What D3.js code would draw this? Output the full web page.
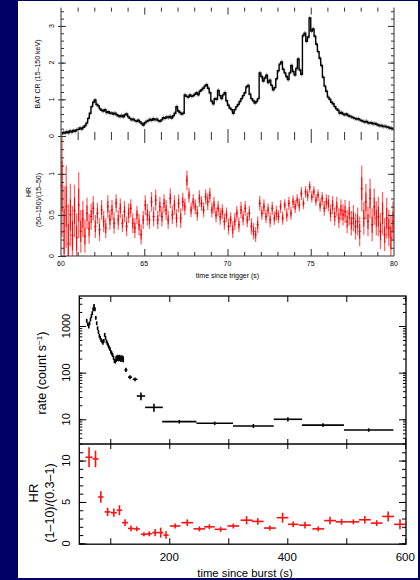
<!DOCTYPE html>
<html>
<head>
<meta charset="utf-8">
<script src="https://cdn.jsdelivr.net/npm/d3@7"></script>
<style>
  html, body { margin: 0; padding: 0; background: #000066; }
  svg { display: block; }
  text { font-family: "Liberation Sans", Arial, sans-serif; fill: #000; }
</style>
</head>
<body>
<svg id="chart" width="420" height="580"></svg>
<script>
// ---- upper figure: BAT count rate (0.1 s bins) and hardness ratio (0.125 s bins)
const batStart = 60.0;
const batBin = 0.1;
const batRate = [
  0.06,0.10,0.08,0.12,0.09,0.14,0.11,0.15,0.13,0.17,
  0.18,0.22,0.19,0.24,0.28,0.35,0.48,0.62,0.80,0.92,
  0.98,0.86,0.82,0.74,0.70,0.68,0.72,0.64,0.66,0.62,
  0.63,0.60,0.62,0.58,0.55,0.53,0.56,0.52,0.58,0.60,
  0.52,0.48,0.44,0.46,0.42,0.40,0.43,0.38,0.34,0.30,
  0.36,0.40,0.42,0.45,0.43,0.47,0.44,0.46,0.42,0.40,
  0.44,0.50,0.48,0.52,0.50,0.53,0.49,0.55,0.62,0.80,
  0.68,0.64,0.60,0.62,1.12,1.08,1.06,1.12,1.08,1.10,
  1.14,1.18,1.12,1.22,1.26,1.30,1.36,1.40,1.30,1.18,
  0.95,0.88,1.02,1.00,1.24,1.10,1.02,1.12,1.18,0.96,
  0.84,0.76,0.72,0.62,0.72,0.80,0.86,0.94,1.02,1.10,
  1.18,1.34,1.38,1.14,1.02,0.96,0.90,0.94,1.02,1.72,
  1.62,1.50,1.58,1.66,1.46,1.52,1.38,1.26,1.32,1.56,
  1.78,1.96,2.02,1.82,1.72,1.62,1.54,1.72,1.92,1.76,
  1.66,1.84,2.10,1.80,1.68,2.74,2.80,2.58,2.70,3.22,
  2.86,2.92,2.72,2.50,2.30,2.12,1.92,1.60,1.36,1.22,
  1.06,1.00,0.92,0.88,0.80,0.74,0.70,0.62,0.64,0.60,
  0.58,0.60,0.56,0.54,0.52,0.50,0.48,0.46,0.47,0.44,
  0.42,0.40,0.38,0.40,0.36,0.35,0.36,0.33,0.34,0.32,
  0.30,0.28,0.29,0.26,0.27,0.25,0.24,0.22,0.21,0.19
];
const batRateErr = 0.06;

const hrBin = 0.125;
const batHR = [
  0.85,0.30,0.60,0.15,0.50,0.25,0.55,0.22,
  0.62,0.30,0.45,0.24,0.52,0.33,0.48,0.58,
  0.36,0.52,0.32,0.56,0.42,0.34,0.60,0.44,
  0.56,0.40,0.64,0.44,0.58,0.40,0.54,0.36,
  0.52,0.58,0.40,0.34,0.50,0.38,0.26,0.44,
  0.62,0.50,0.44,0.66,0.48,0.68,0.44,0.60,
  0.48,0.64,0.56,0.44,0.70,0.50,0.62,0.46,
  0.64,0.46,0.66,0.60,0.92,0.74,0.56,0.66,
  0.60,0.52,0.70,0.64,0.56,0.72,0.66,0.74,
  0.56,0.62,0.50,0.58,0.48,0.54,0.42,0.50,
  0.36,0.44,0.32,0.42,0.52,0.38,0.56,0.46,
  0.58,0.44,0.52,0.36,0.30,0.26,0.38,0.64,
  0.52,0.60,0.48,0.56,0.44,0.58,0.46,0.52,
  0.48,0.60,0.46,0.62,0.50,0.64,0.52,0.66,
  0.60,0.68,0.62,0.76,0.64,0.78,0.74,0.84,
  0.72,0.78,0.68,0.74,0.62,0.70,0.58,0.66,
  0.64,0.52,0.62,0.48,0.60,0.46,0.56,0.50,
  0.54,0.42,0.52,0.40,0.46,0.36,0.42,0.30,
  0.82,0.46,0.66,0.42,0.70,0.38,0.60,0.46,
  0.48,0.30,0.52,0.26,0.46,0.34,0.22,0.42
];
const batHRErr = [
  0.62,0.55,0.50,0.48,0.38,0.36,0.32,0.30,
  0.40,0.26,0.22,0.20,0.19,0.18,0.16,0.15,
  0.14,0.13,0.14,0.12,0.13,0.12,0.14,0.12,
  0.12,0.13,0.11,0.12,0.12,0.11,0.13,0.12,
  0.12,0.11,0.12,0.12,0.11,0.13,0.12,0.11,
  0.12,0.13,0.11,0.12,0.12,0.13,0.11,0.12,
  0.12,0.11,0.12,0.11,0.12,0.11,0.12,0.11,
  0.11,0.12,0.11,0.10,0.12,0.09,0.09,0.09,
  0.09,0.09,0.10,0.09,0.09,0.09,0.10,0.09,
  0.09,0.10,0.09,0.09,0.10,0.09,0.10,0.09,
  0.10,0.09,0.10,0.10,0.09,0.09,0.10,0.09,
  0.09,0.09,0.09,0.10,0.10,0.09,0.10,0.09,
  0.08,0.09,0.08,0.08,0.09,0.08,0.08,0.09,
  0.08,0.08,0.08,0.07,0.08,0.08,0.08,0.08,
  0.08,0.07,0.08,0.08,0.07,0.07,0.07,0.07,
  0.07,0.07,0.07,0.07,0.08,0.08,0.09,0.09,
  0.10,0.10,0.11,0.11,0.12,0.12,0.13,0.13,
  0.14,0.14,0.15,0.15,0.16,0.16,0.17,0.18,
  0.28,0.20,0.22,0.18,0.24,0.20,0.22,0.21,
  0.24,0.22,0.26,0.20,0.25,0.22,0.28,0.24
];

// ---- lower figure: X-ray rate and hardness vs time since burst
const xrtTime = [60,62,63.5,65,66.5,68,69.5,71,72.5,74,75.5,77,78.5,80,81.5,83,84.5,86,87.5,89,
  90.5,92,93.5,95,96.5,98,99.5,101,102.5,104,105.5,107,108.5,110,112,114,116,118,120,122,
  126.5,133.5,142,152,174,217,277,342.5,401,460.5,538];
const xrtTimeErr = [1,1,0.75,0.75,0.75,0.75,0.75,0.75,0.75,0.75,0.75,0.75,0.75,0.75,0.75,0.75,0.75,0.75,0.75,0.75,
  0.75,0.75,0.75,0.75,0.75,0.75,0.75,0.75,0.75,0.75,0.75,0.75,0.75,1,1,1,1,1,1,1,
  2.5,3.5,4,7,15,29,31,34.5,24,35.5,42];
const xrtRate = [1300,1100,980,1150,1400,1650,1900,2300,2700,2300,1500,1150,900,750,620,560,500,470,440,480,
  650,560,470,430,390,350,320,280,260,240,210,180,175,200,210,205,210,200,205,195,
  115,80,72,31.5,18,8.9,8.2,7.2,10,7.5,5.9];
const xrtRateErr = [125,105,95,110,135,160,180,220,260,220,145,110,86,72,60,54,48,45,42,46,
  62,54,45,42,37,34,30,27,26,23,21,18,18,30,32,31,32,30,31,29,
  12,8,7,6,3.5,0.8,0.7,0.7,1.0,0.7,0.5];

const hrTime = [64,75,84,95.5,106,115.5,125,135,145,157,166,176,185.5,194.5,210,230.5,251,268,287,308.5,
  331,350,370.5,392,410,430,452.5,472.5,492,512,531.5,551.5,571,591];
const hrTimeErr = [6,5,4.5,5,5,4.5,5,5,5,5,4.5,5,4.5,4.5,9,10,10,9,10,10,
  10,10,10,10,9,10,10,10,10,10,10,10,10,10];
const hrVal = [10.4,10.2,5.6,3.8,3.7,4.0,2.5,1.8,1.75,1.1,1.15,1.3,1.3,1.0,2.1,2.5,1.75,2.0,1.7,2.1,
  2.8,2.65,1.85,3.1,2.3,2.2,1.75,2.75,2.6,2.6,2.85,2.45,3.25,2.3];
const hrValErr = [1.2,1.0,0.7,0.5,0.5,0.6,0.4,0.35,0.3,0.25,0.3,0.45,0.6,0.45,0.3,0.4,0.3,0.3,0.3,0.3,
  0.5,0.4,0.3,0.6,0.35,0.4,0.3,0.45,0.35,0.3,0.45,0.35,0.6,0.6];

const svg = d3.select('#chart');

svg.append('rect').attr('width', 420).attr('height', 580).attr('fill', '#000066');
svg.append('rect').attr('x', 18).attr('y', 1).attr('width', 400).attr('height', 577).attr('fill', '#fff');

// draw only the tick lines of an axis
function ticks(g, axis, color) {
  g.call(axis);
  g.select('.domain').remove();
  g.selectAll('text').remove();
  g.selectAll('line').attr('stroke', color || '#000');
}

function rotLabel(x, y, txt, size) {
  return svg.append('text')
    .attr('transform', `translate(${x},${y}) rotate(-90)`)
    .attr('text-anchor', 'middle')
    .attr('dy', '0.35em')
    .attr('font-size', size)
    .text(txt);
}

// ================= upper figure =================
const xBat = d3.scaleLinear().domain([60, 80]).range([61, 394]);
const yRate = d3.scaleLinear().domain([0, 3.5]).range([136, 7.6]);
const yHRb = d3.scaleLinear().domain([0, 1.46]).range([256, 136]);

const rateData = batRate.map((v, i) => ({ t: batStart + (i + 0.5) * batBin, v: v }));
const hrData = batHR.map((v, i) => ({ t: batStart + (i + 0.5) * hrBin, v: v, e: batHRErr[i] }));

const up = svg.append('g');

// rate error bars + curve
up.append('g').selectAll('line').data(rateData).join('line')
  .attr('x1', d => xBat(d.t)).attr('x2', d => xBat(d.t))
  .attr('y1', d => yRate(d.v - batRateErr)).attr('y2', d => yRate(d.v + batRateErr))
  .attr('stroke', '#a0a0a0').attr('stroke-width', 1.3);

up.append('path')
  .attr('d', d3.line().x(d => xBat(d.t)).y(d => yRate(d.v)).curve(d3.curveStep)(rateData))
  .attr('fill', 'none').attr('stroke', '#000').attr('stroke-width', 1.4);

// hardness ratio error bars
up.append('g').selectAll('line').data(hrData).join('line')
  .attr('x1', d => xBat(d.t)).attr('x2', d => xBat(d.t))
  .attr('y1', d => yHRb(Math.max(0, d.v - d.e))).attr('y2', d => yHRb(Math.min(1.46, d.v + d.e)))
  .attr('stroke', '#ff0000').attr('stroke-opacity', 0.6).attr('stroke-width', 1.3);
up.append('g').selectAll('line').data(hrData).join('line')
  .attr('x1', d => xBat(d.t)).attr('x2', d => xBat(d.t))
  .attr('y1', d => yHRb(Math.max(0, d.v - d.e * 0.5))).attr('y2', d => yHRb(d.v + d.e * 0.5))
  .attr('stroke', '#ff0000').attr('stroke-width', 1);
up.append('g').selectAll('line').data(hrData).join('line')
  .attr('x1', d => xBat(d.t - hrBin / 2)).attr('x2', d => xBat(d.t + hrBin / 2))
  .attr('y1', d => yHRb(d.v)).attr('y2', d => yHRb(d.v))
  .attr('stroke', '#ff0000').attr('stroke-width', 1.2);

// frame lines (left, right, bottom)
up.append('line').attr('x1', 61).attr('x2', 61).attr('y1', 7.6).attr('y2', 256).attr('stroke', '#333');
up.append('line').attr('x1', 394).attr('x2', 394).attr('y1', 7.6).attr('y2', 256).attr('stroke', '#333');
up.append('line').attr('x1', 61).attr('x2', 394).attr('y1', 256).attr('y2', 256).attr('stroke', '#333');

// x ticks on top, middle and bottom
const xMinor = d3.range(61, 80, 1).filter(t => t % 5 !== 0);
const xMajor = [65, 70, 75];
[[7.6, 'down'], [136, 'up'], [136, 'down'], [256, 'up']].forEach(([yy, dir]) => {
  const mk = dir === 'down' ? d3.axisBottom : d3.axisTop;
  ticks(up.append('g').attr('transform', `translate(0,${yy})`), mk(xBat).tickValues(xMinor).tickSize(4), '#333');
  ticks(up.append('g').attr('transform', `translate(0,${yy})`), mk(xBat).tickValues(xMajor).tickSize(7), '#333');
});

// y ticks
ticks(up.append('g').attr('transform', 'translate(61,0)'), d3.axisRight(yRate).tickValues(d3.range(0.2, 3.5, 0.2)).tickSize(3), '#333');
ticks(up.append('g').attr('transform', 'translate(58,0)'), d3.axisRight(yRate).tickValues([0, 1, 2, 3]).tickSize(8), '#333');
ticks(up.append('g').attr('transform', 'translate(394,0)'), d3.axisLeft(yRate).tickValues(d3.range(0.2, 3.5, 0.2)).tickSize(3), '#333');
ticks(up.append('g').attr('transform', 'translate(394,0)'), d3.axisLeft(yRate).tickValues([1, 2, 3]).tickSize(6), '#333');
ticks(up.append('g').attr('transform', 'translate(61,0)'), d3.axisRight(yHRb).tickValues(d3.range(0.1, 1.45, 0.1)).tickSize(3), '#333');
ticks(up.append('g').attr('transform', 'translate(58,0)'), d3.axisRight(yHRb).tickValues([0, 0.5, 1]).tickSize(8), '#333');
ticks(up.append('g').attr('transform', 'translate(394,0)'), d3.axisLeft(yHRb).tickValues(d3.range(0.1, 1.45, 0.1)).tickSize(3), '#333');
ticks(up.append('g').attr('transform', 'translate(394,0)'), d3.axisLeft(yHRb).tickValues([0.5, 1]).tickSize(6), '#333');

// labels
[0, 1, 2, 3].forEach(v => rotLabel(51.5, yRate(v), String(v), 7));
[0, 0.5, 1].forEach(v => rotLabel(51.5, yHRb(v), String(v), 7));
[60, 65, 70, 75, 80].forEach(v => svg.append('text')
  .attr('x', xBat(v)).attr('y', 266).attr('text-anchor', 'middle').attr('font-size', 7).text(v));
svg.append('text').attr('x', xBat(70)).attr('y', 278).attr('text-anchor', 'middle')
  .attr('font-size', 7).text('time since trigger (s)');
rotLabel(37.5, 74, 'BAT CR (15–150 keV)', 7);
rotLabel(28.5, 192, 'HR', 7);
rotLabel(38.5, 200, '(50–150)/(15–50)', 7);

// ================= lower figure =================
const xX = d3.scaleLinear().domain([47.5, 601.2]).range([79.3, 406]);
const yX = d3.scaleLog().domain([2.95, 4400]).range([444, 296]);
const yH = d3.scaleLinear().domain([-0.1, 12]).range([544.2, 444]);

const lo = svg.append('g');

const xrtData = xrtTime.map((t, i) => ({ t: t, te: xrtTimeErr[i], v: xrtRate[i], e: xrtRateErr[i] }));
const hrX = hrTime.map((t, i) => ({ t: t, te: hrTimeErr[i], v: hrVal[i], e: hrValErr[i] }));

function crosses(g, data, y, color, width) {
  g.append('g').selectAll('line').data(data).join('line')
    .attr('x1', d => xX(d.t - d.te)).attr('x2', d => xX(d.t + d.te))
    .attr('y1', d => y(d.v)).attr('y2', d => y(d.v))
    .attr('stroke', color).attr('stroke-width', width);
  g.append('g').selectAll('line').data(data).join('line')
    .attr('x1', d => xX(d.t)).attr('x2', d => xX(d.t))
    .attr('y1', d => y(d.v - d.e)).attr('y2', d => y(d.v + d.e))
    .attr('stroke', color).attr('stroke-width', width);
}

crosses(lo, xrtData, yX, '#000', 1.6);
crosses(lo, hrX, yH, '#ff1010', 1.6);

// frame + separator
lo.append('rect').attr('x', 79.3).attr('y', 296).attr('width', 406 - 79.3).attr('height', 544.2 - 296)
  .attr('fill', 'none').attr('stroke', '#000').attr('stroke-width', 1.3);
lo.append('line').attr('x1', 79.3).attr('x2', 406).attr('y1', 444).attr('y2', 444)
  .attr('stroke', '#000').attr('stroke-width', 1.3);

const xTicks = [100, 200, 300, 400, 500, 600];
ticks(lo.append('g').attr('transform', 'translate(0,296)'), d3.axisBottom(xX).tickValues(xTicks).tickSize(6));
ticks(lo.append('g').attr('transform', 'translate(0,439)'), d3.axisBottom(xX).tickValues(xTicks).tickSize(10));
ticks(lo.append('g').attr('transform', 'translate(0,544.2)'), d3.axisTop(xX).tickValues(xTicks).tickSize(6));

const logMinor = yX.ticks().filter(v => v >= 3);
const logMajor = [10, 100, 1000];
ticks(lo.append('g').attr('transform', 'translate(79.3,0)'), d3.axisRight(yX).tickValues(logMinor).tickSize(3));
ticks(lo.append('g').attr('transform', 'translate(79.3,0)'), d3.axisRight(yX).tickValues(logMajor).tickSize(7));
ticks(lo.append('g').attr('transform', 'translate(406,0)'), d3.axisLeft(yX).tickValues(logMinor).tickSize(3));
ticks(lo.append('g').attr('transform', 'translate(406,0)'), d3.axisLeft(yX).tickValues(logMajor).tickSize(7));
ticks(lo.append('g').attr('transform', 'translate(79.3,0)'), d3.axisRight(yH).tickValues(d3.range(0, 12, 1)).tickSize(4));
ticks(lo.append('g').attr('transform', 'translate(79.3,0)'), d3.axisRight(yH).tickValues([0, 5, 10]).tickSize(7));
ticks(lo.append('g').attr('transform', 'translate(406,0)'), d3.axisLeft(yH).tickValues(d3.range(0, 12, 1)).tickSize(4));
ticks(lo.append('g').attr('transform', 'translate(406,0)'), d3.axisLeft(yH).tickValues([0, 5, 10]).tickSize(7));

logMajor.forEach(v => rotLabel(66.5, yX(v), String(v), 11));
[0, 5, 10].forEach(v => rotLabel(66.5, yH(v), String(v), 11));
[200, 400, 600].forEach(v => svg.append('text')
  .attr('x', xX(v)).attr('y', 561).attr('text-anchor', 'middle').attr('font-size', 11.5).text(v));
svg.append('text').attr('x', 245).attr('y', 576.5).attr('text-anchor', 'middle')
  .attr('font-size', 11.3).text('time since burst (s)');

const rl = rotLabel(41.7, 373, '', 12.5);
rl.append('tspan').text('rate (count s');
rl.append('tspan').attr('baseline-shift', 'super').attr('font-size', 8).text('−1');
rl.append('tspan').text(')');
rotLabel(33, 493, 'HR', 13);
rotLabel(49.3, 503, '(1–10)/(0.3–1)', 12.5);
</script>
</body>
</html>
